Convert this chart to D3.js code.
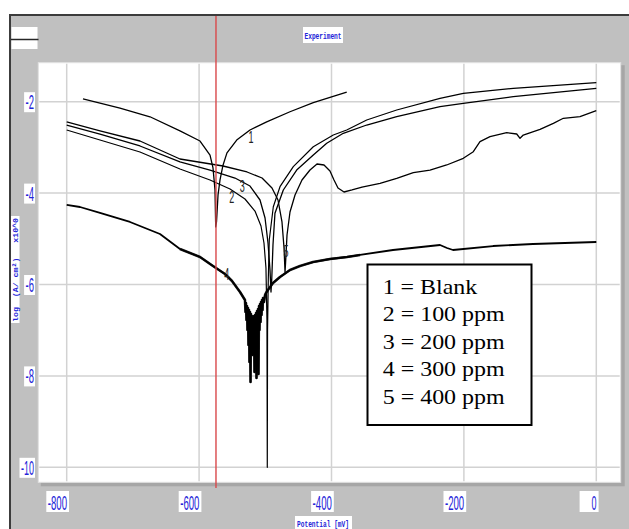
<!DOCTYPE html>
<html>
<head>
<meta charset="utf-8">
<script src="https://cdn.jsdelivr.net/npm/d3@7"></script>
<style>
  html, body { margin: 0; padding: 0; background: #fff; }
  svg { display: block; }
</style>
</head>
<body>
<svg id="chart" width="629" height="529"></svg>
<script>
// Axis ticks
const xTicks = [-800, -600, -400, -200, 0];
const yTicks = [-2, -4, -6, -8, -10];

// Legend entries
const seriesLabels = ["1 = Blank", "2 = 100 ppm", "3 = 200 ppm", "4 = 300 ppm", "5 = 400 ppm"];

// Polarisation curves: [potential (mV), log current density]
const blank = [
  [-775.4, -1.94], [-749.7, -2.03], [-719.5, -2.14], [-674.2, -2.33], [-628.9, -2.64],
  [-598.6, -2.86], [-583.5, -3.17], [-579.0, -3.45], [-576.0, -3.93], [-574.9, -4.74],
  [-573.7, -4.63], [-571.4, -4.04], [-568.4, -3.71], [-563.9, -3.39], [-557.9, -3.12],
  [-543.2, -2.84], [-523.1, -2.62], [-497.9, -2.44], [-462.7, -2.22], [-427.5, -2.02],
  [-377.0, -1.79]
];

const ppm100 = [
  [-800, -2.619], [-749.7, -2.838], [-689.3, -3.101], [-628.9, -3.473], [-583.5, -3.713],
  [-553.3, -3.910], [-530.7, -4.129], [-515.6, -4.392], [-506.5, -4.720], [-502.0, -5.092],
  [-499.0, -5.639], [-497.5, -6.777], [-497.0, -10.0], [-496.6, -6.996], [-495.5, -5.902],
  [-494.0, -5.027], [-487.9, -4.298], [-477.8, -3.860], [-457.7, -3.422], [-427.5, -2.985],
  [-397.3, -2.729], [-377.0, -2.619], [-346.8, -2.400], [-301.5, -2.182], [-236.1, -1.926],
  [-200.9, -1.816], [-125.4, -1.707], [0, -1.584]
];

const ppm200 = [
  [-800, -2.510], [-749.7, -2.707], [-689.3, -2.969], [-628.9, -3.319], [-583.5, -3.495],
  [-545.8, -3.670], [-523.1, -3.845], [-508.0, -4.151], [-500.4, -4.545], [-495.9, -5.092],
  [-492.9, -5.683], [-491.4, -6.164], [-490.3, -5.902], [-488.4, -5.136], [-485.4, -4.442],
  [-472.8, -3.932], [-452.6, -3.495], [-427.5, -3.166], [-407.2, -2.910], [-382.2, -2.691],
  [-346.8, -2.510], [-301.5, -2.328], [-236.1, -2.109], [-200.9, -2.035], [-125.4, -1.891],
  [0, -1.707]
];

const ppm300 = [
  [-800, -4.260], [-779.9, -4.304], [-749.7, -4.435], [-704.4, -4.632], [-659.1, -4.895],
  [-628.9, -5.223], [-598.6, -5.398], [-579.0, -5.595], [-560.9, -5.770], [-550.3, -5.923],
  [-538.2, -6.164],
  [-530.7, -6.339], [-529.9, -6.602], [-529.2, -6.405], [-528.4, -6.777], [-527.6, -6.470],
  [-526.9, -6.996], [-526.1, -6.514], [-525.4, -7.324], [-524.6, -6.558], [-523.9, -7.696],
  [-523.1, -6.602], [-522.3, -8.133], [-521.6, -6.646], [-520.8, -7.258], [-520.1, -6.689],
  [-519.3, -7.543], [-518.6, -6.733], [-517.8, -7.302], [-517.1, -6.689], [-516.3, -7.915],
  [-515.6, -6.667], [-514.8, -7.346], [-514.0, -6.624], [-513.3, -8.046], [-512.5, -6.580],
  [-511.8, -7.214], [-511.0, -6.536], [-510.3, -7.958], [-509.5, -6.470], [-508.8, -6.996],
  [-508.0, -6.427], [-507.2, -6.821], [-506.5, -6.383], [-505.7, -6.667], [-505.0, -6.339],
  [-504.2, -6.558], [-503.5, -6.295], [-502.0, -6.383], [-500.4, -6.230],
  [-499.0, -6.186], [-496.0, -6.120], [-488.4, -5.967], [-477.8, -5.836], [-462.7, -5.683],
  [-447.6, -5.595], [-427.9, -5.508], [-402.3, -5.442], [-376.6, -5.398], [-356.9, -5.354],
  [-307.1, -5.245], [-236.1, -5.136], [-225.5, -5.201], [-216.4, -5.245], [-156.0, -5.158],
  [-95.6, -5.114], [0, -5.070]
];

const ppm400 = [
  [-800, -2.444], [-749.7, -2.641], [-689.3, -2.860], [-628.9, -3.254], [-563.9, -3.407],
  [-527.6, -3.538], [-504.9, -3.670], [-489.9, -3.888], [-480.8, -4.151], [-474.8, -4.632],
  [-471.7, -5.201], [-470.2, -5.726], [-469.3, -5.508], [-467.2, -4.917], [-462.7, -4.414],
  [-455.1, -4.042], [-444.6, -3.713], [-432.5, -3.495], [-421.9, -3.363], [-411.3, -3.385],
  [-402.3, -3.516], [-396.2, -3.713], [-390.2, -3.888], [-381.1, -3.976], [-369.0, -3.932],
  [-353.9, -3.867], [-326.7, -3.786], [-301.5, -3.676], [-276.4, -3.554], [-251.2, -3.495],
  [-226.0, -3.385], [-200.9, -3.239], [-185.8, -3.094], [-175.7, -2.875], [-160.6, -2.766],
  [-135.3, -2.678], [-120.2, -2.707], [-115.2, -2.801], [-110.3, -2.729], [-85.0, -2.604],
  [-64.9, -2.473], [-49.8, -2.363], [-24.6, -2.328], [0, -2.197]
];

// Curve number annotations placed at [potential, log i]
const curveTags = [
  ["1", -521.6, -2.904],
  ["2", -550.7, -4.217],
  ["3", -534.7, -3.976],
  ["4", -558.3, -5.902],
  ["5", -468.7, -5.398]
];

// Cursor potential (mV)
const cursorPotential = -574.5;

const svg = d3.select("#chart");
const blue = "#2323d8";

// Plot window
const plot = { left: 38.3, top: 62.7, right: 620.7, bottom: 482.3 };

const x = d3.scaleLinear().domain([-800, 0]).range([66.7, 596.3]);
const y = d3.scaleLinear().domain([-2, -10]).range([101.7, 467.3]);

// Window background and frame
svg.append("rect").attr("width", 629).attr("height", 529).attr("fill", "#ffffff");
svg.append("rect").attr("x", 9).attr("y", 14).attr("width", 620).attr("height", 515).attr("fill", "#c0c0c0");
svg.append("line").attr("x1", 10).attr("x2", 10).attr("y1", 14).attr("y2", 529)
  .attr("stroke", "#3c3c3c").attr("stroke-width", 2);
svg.append("line").attr("x1", 9).attr("x2", 629).attr("y1", 15).attr("y2", 15)
  .attr("stroke", "#3c3c3c").attr("stroke-width", 2);

// Small widget at top-left
svg.append("rect").attr("x", 11.5).attr("y", 27).attr("width", 26).attr("height", 22).attr("fill", "#fff");
svg.append("line").attr("x1", 11).attr("x2", 38.5).attr("y1", 39.5).attr("y2", 39.5)
  .attr("stroke", "#262626").attr("stroke-width", 1.5);

// Title
svg.append("rect").attr("x", 303).attr("y", 27).attr("width", 40).attr("height", 16).attr("fill", "#fff");
svg.append("text").attr("x", 304.5).attr("y", 38.5)
  .attr("font-family", "Liberation Mono, DejaVu Sans Mono, monospace")
  .attr("font-weight", "bold").attr("font-size", 8.5).attr("fill", blue)
  .attr("textLength", 37).attr("lengthAdjust", "spacingAndGlyphs")
  .text("Experiment");

// Plot area with shadow edge
svg.append("rect").attr("x", plot.left + 2.5).attr("y", plot.top + 2.5)
  .attr("width", plot.right - plot.left + 1.5).attr("height", plot.bottom - plot.top + 1.5)
  .attr("fill", "#a6a6a6");
svg.append("rect").attr("x", plot.left).attr("y", plot.top)
  .attr("width", plot.right - plot.left).attr("height", plot.bottom - plot.top)
  .attr("fill", "#fff").attr("stroke", "#e2e2e2").attr("stroke-width", 1);

// Grid
const grid = svg.append("g").attr("stroke", "#d2d2d2").attr("stroke-width", 1.5);
grid.selectAll("line.v").data(xTicks).join("line").attr("class", "v")
  .attr("x1", d => x(d)).attr("x2", d => x(d))
  .attr("y1", plot.top + 1).attr("y2", plot.bottom - 1);
grid.selectAll("line.h").data(yTicks).join("line").attr("class", "h")
  .attr("y1", d => y(d)).attr("y2", d => y(d))
  .attr("x1", plot.left + 1).attr("x2", plot.right - 1);

// Tick labels: narrow blue digits on white tags
const tickFont = "Liberation Sans Narrow, Liberation Sans, Arial, sans-serif";
function labelWidth(s, dash, digit) {
  let w = 0;
  for (const c of s) w += (c === "-") ? dash : digit;
  return w;
}
const xl = svg.append("g");
xTicks.forEach(t => {
  const s = String(t);
  const w = labelWidth(s, 4.2, 5.0);
  const xr = x(t) + 0.3;
  xl.append("rect").attr("x", t === 0 ? xr - 17 : xr - w - 1.5).attr("y", 491)
    .attr("width", t === 0 ? 19 : w + 3.5).attr("height", 21).attr("fill", "#fff");
  xl.append("text").attr("x", xr - w).attr("y", 509.5)
    .attr("font-family", tickFont).attr("font-size", 21).attr("fill", blue)
    .attr("textLength", w).attr("lengthAdjust", "spacingAndGlyphs")
    .text(s);
});
const yl = svg.append("g");
yTicks.forEach(t => {
  const s = String(t);
  const w = labelWidth(s, 3.8, 4.6);
  const xr = 34;
  yl.append("rect").attr("x", xr - w - 1.5).attr("y", y(t) - 9.5)
    .attr("width", w + 2.5).attr("height", 20).attr("fill", "#fff");
  yl.append("text").attr("x", xr - w).attr("y", y(t) + 7.5)
    .attr("font-family", tickFont).attr("font-size", 20).attr("fill", blue)
    .attr("textLength", w).attr("lengthAdjust", "spacingAndGlyphs")
    .text(s);
});

// Axis titles
svg.append("rect").attr("x", 11).attr("y", 216).attr("width", 8.5).attr("height", 107).attr("fill", "#fff");
svg.append("text")
  .attr("transform", "translate(18,322) rotate(-90)")
  .attr("font-family", "Liberation Mono, DejaVu Sans Mono, monospace")
  .attr("font-weight", "bold").attr("font-size", 8).attr("fill", blue)
  .attr("textLength", 104).attr("lengthAdjust", "spacingAndGlyphs")
  .style("white-space", "pre")
  .text("log  (A/ cm²)   x10^0");

svg.append("rect").attr("x", 295).attr("y", 516).attr("width", 57).attr("height", 13).attr("fill", "#fff");
svg.append("text").attr("x", 297).attr("y", 526.5)
  .attr("font-family", "Liberation Mono, DejaVu Sans Mono, monospace")
  .attr("font-weight", "bold").attr("font-size", 8.5).attr("fill", blue)
  .attr("textLength", 52).attr("lengthAdjust", "spacingAndGlyphs")
  .text("Potential [mV]");

// Curves
svg.append("clipPath").attr("id", "clip").append("rect")
  .attr("x", plot.left).attr("y", plot.top)
  .attr("width", plot.right - plot.left).attr("height", plot.bottom - plot.top);
const line = d3.line().x(d => x(d[0])).y(d => y(d[1]));
const curves = svg.append("g").attr("clip-path", "url(#clip)").attr("fill", "none")
  .attr("stroke", "#000").attr("stroke-linejoin", "round");
[
  { data: ppm300, w: 1.8 },
  { data: blank, w: 1.3 },
  { data: ppm100, w: 1.2 },
  { data: ppm200, w: 1.3 },
  { data: ppm400, w: 1.3 }
].forEach(c => {
  curves.append("path").attr("d", line(c.data)).attr("stroke-width", c.w);
});
// The 300 ppm trace is noisy near its corrosion potential: draw that stretch heavier
curves.append("path")
  .attr("d", line(ppm300.filter(d => d[0] >= -640 && d[0] <= -340)))
  .attr("stroke-width", 2.6).attr("stroke-opacity", 0.85);

// Curve numbers
svg.append("g").selectAll("text").data(curveTags).join("text")
  .attr("x", d => x(d[1])).attr("y", d => y(d[2]))
  .attr("text-anchor", "middle")
  .attr("font-family", tickFont).attr("font-size", 16).attr("fill", "#222")
  .attr("textLength", 5).attr("lengthAdjust", "spacingAndGlyphs")
  .text(d => d[0]);

// Cursor line
svg.append("line")
  .attr("x1", x(cursorPotential)).attr("x2", x(cursorPotential))
  .attr("y1", 16).attr("y2", 488)
  .attr("stroke", "#d9484a").attr("stroke-width", 1.4);

// Legend
const lg = svg.append("g");
lg.append("rect").attr("x", 367.5).attr("y", 264.5).attr("width", 164).attr("height", 160.5)
  .attr("fill", "#fff").attr("stroke", "#000").attr("stroke-width", 2);
lg.selectAll("text").data(seriesLabels).join("text")
  .attr("x", 382.7).attr("y", (d, i) => 293.5 + i * 27.6)
  .attr("font-family", "Liberation Serif, Times New Roman, serif")
  .attr("font-size", 22).attr("fill", "#000")
  .attr("textLength", (d, i) => i === 0 ? 94.5 : 122)
  .attr("lengthAdjust", "spacingAndGlyphs")
  .text(d => d);
</script>
</body>
</html>
